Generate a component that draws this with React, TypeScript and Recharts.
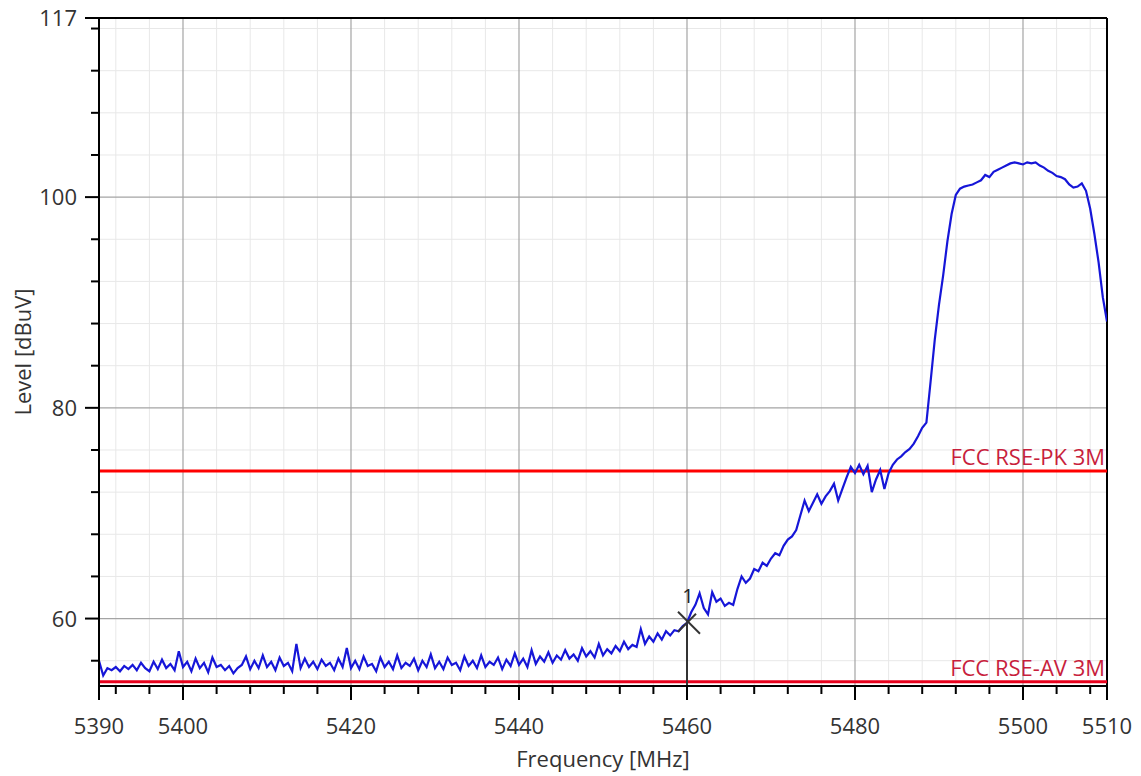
import React from 'react';
import {
  LineChart, Line, XAxis, YAxis, ReferenceLine, ReferenceDot,
} from 'recharts';

const START_FREQ = 5390;
const STEP_MHZ = 0.5;

// Measured level trace, one value every 0.5 MHz from 5390 to 5510 MHz
const LEVELS: number[] = [
  56.0, 54.6, 55.3, 55.1, 55.4, 55.0, 55.5, 55.2, 55.6, 55.1,
  55.8, 55.3, 55.0, 55.9, 55.2, 56.1, 55.3, 55.7, 55.1, 56.9,
  55.4, 55.9, 55.0, 56.2, 55.3, 55.8, 54.9, 56.3, 55.4, 55.6,
  55.1, 55.5, 54.8, 55.3, 55.6, 56.4, 55.2, 56.0, 55.3, 56.5,
  55.4, 55.9, 55.1, 56.3, 55.5, 55.8, 55.0, 57.6, 55.3, 56.2,
  55.4, 55.9, 55.2, 56.1, 55.5, 55.8, 55.1, 56.2, 55.4, 57.2,
  55.3, 56.0, 55.2, 56.4, 55.5, 55.7, 55.0, 56.3, 55.4, 55.9,
  55.2, 56.5, 55.3, 55.8, 55.5, 56.2, 55.1, 56.0, 55.4, 56.6,
  55.3, 55.9, 55.2, 56.3, 55.6, 55.8, 55.1, 56.4, 55.5, 56.0,
  55.3, 56.5, 55.4, 55.9, 55.6, 56.3, 55.2, 56.1, 55.5, 56.7,
  55.6, 56.2, 55.4, 57.0, 55.7, 56.4, 55.9, 56.8, 55.8, 56.5,
  56.1, 57.0, 56.2, 56.6, 56.0, 57.2, 56.4, 56.9, 56.3, 57.6,
  56.5, 57.1, 56.7, 57.4, 56.9, 57.8, 57.1, 57.5, 57.3, 59.0,
  57.6, 58.3, 57.8, 58.6, 58.0, 58.8, 58.4, 58.9, 58.8, 59.3,
  59.6, 60.6, 61.3, 62.4, 61.0, 60.4, 62.5, 61.6, 61.9, 61.2,
  61.5, 61.3, 62.8, 64.0, 63.4, 63.8, 64.7, 64.5, 65.3, 65.0,
  65.7, 66.2, 66.0, 66.9, 67.5, 67.8, 68.4, 69.8, 71.2, 70.2,
  71.0, 71.8, 70.9, 71.6, 72.1, 72.8, 71.2, 72.3, 73.4, 74.4,
  73.8, 74.6, 73.7, 74.5, 72.0, 73.2, 74.1, 72.3, 73.8, 74.6,
  75.1, 75.4, 75.8, 76.1, 76.6, 77.3, 78.1, 78.6, 82.5, 86.5,
  89.8, 92.6, 95.8, 98.4, 100.2, 100.8, 101.0, 101.1, 101.2, 101.4,
  101.6, 102.1, 101.9, 102.4, 102.6, 102.8, 103.0, 103.2, 103.3, 103.2,
  103.1, 103.3, 103.2, 103.3, 103.0, 102.8, 102.5, 102.3, 102.0, 101.9,
  101.7, 101.2, 100.9, 101.0, 101.3, 100.6, 98.9, 96.5, 93.8, 90.5,
  88.2,
];

const MAJOR_X = [5390, 5400, 5420, 5440, 5460, 5480, 5500, 5510];
const MINOR_X = [5392, 5396, 5404, 5408, 5412, 5416, 5424, 5428, 5432, 5436, 5444, 5448,
  5452, 5456, 5464, 5468, 5472, 5476, 5484, 5488, 5492, 5496, 5504, 5508];
const MAJOR_Y = [60, 80, 100, 117];
const MINOR_Y = [56, 64, 68, 72, 76, 84, 88, 92, 96, 104, 108, 112, 116];
const GRID_X = [5400, 5420, 5440, 5460, 5480, 5500];
const GRID_Y = [60, 80, 100];

const Y_DOMAIN: [number, number] = [53.6, 117];
const X_DOMAIN: [number, number] = [5390, 5510];

const LIMIT_PK = 74;
const LIMIT_AV = 54;
const MARKER = { freq: 5460, level: 59.6, label: '1' };

const data = LEVELS.map((level, i) => ({ freq: START_FREQ + i * STEP_MHZ, level }));

const FONT = '"Open Sans", "Noto Sans", sans-serif';
const TEXT = '#333333';

const XTick = (props: any) => {
  const { x, y, payload } = props;
  const major = MAJOR_X.includes(payload.value);
  return (
    <g>
      <line x1={x} x2={x} y1={y} y2={y + (major ? 14 : 8)} stroke="#000" strokeWidth={2} />
      {major && (
        <text x={x} y={y + 48} textAnchor="middle" fontSize={22} fontFamily={FONT} fill={TEXT}>
          {payload.value}
        </text>
      )}
    </g>
  );
};

const YTick = (props: any) => {
  const { x, y, payload } = props;
  const major = MAJOR_Y.includes(payload.value);
  return (
    <g>
      <line x1={x - (major ? 14 : 8)} x2={x} y1={y} y2={y} stroke="#000" strokeWidth={2} />
      {major && (
        <text x={x - 22} y={y + 8} textAnchor="end" fontSize={22} fontFamily={FONT} fill={TEXT}>
          {payload.value}
        </text>
      )}
    </g>
  );
};

const limitLabel = (text: string) => (props: any) => {
  const vb = props.viewBox || {};
  return (
    <text x={vb.x + vb.width - 2} y={vb.y - 6} textAnchor="end" fontSize={22}
      fontFamily={FONT} fill="#c81e3c">
      {text}
    </text>
  );
};

const MarkerShape = (props: any) => {
  const { cx, cy } = props;
  return (
    <g>
      <line x1={cx - 9} y1={cy - 11} x2={cx + 13} y2={cy + 11} stroke="#333" strokeWidth={2} />
      <line x1={cx - 9} y1={cy + 9} x2={cx + 9} y2={cy - 9} stroke="#333" strokeWidth={2} />
      <text x={cx + 1} y={cy - 20} textAnchor="middle" fontSize={20} fontFamily={FONT} fill="#222">
        {MARKER.label}
      </text>
    </g>
  );
};

export default function App() {
  return (
    <div style={{ width: 1133, height: 776, background: '#fff', marginTop: -8 }}>
      <LineChart
        width={1133}
        height={776}
        data={data}
        margin={{ top: 18, right: 34, left: 11, bottom: 10 }}
      >
        <XAxis
          dataKey="freq"
          type="number"
          domain={X_DOMAIN}
          ticks={[...MAJOR_X, ...MINOR_X].sort((a, b) => a - b)}
          interval={0}
          tickSize={0}
          tickMargin={0}
          tickLine={false}
          tick={<XTick />}
          axisLine={{ stroke: '#000', strokeWidth: 2 }}
          height={80}
          allowDataOverflow
          label={(p: any) => {
            const vb = p.viewBox || {};
            return (
              <text x={vb.x + vb.width / 2} y={vb.y + 81} textAnchor="middle" fontSize={22}
                fontFamily={FONT} fill={TEXT}>
                Frequency [MHz]
              </text>
            );
          }}
        />
        <YAxis
          type="number"
          domain={Y_DOMAIN}
          ticks={[...MAJOR_Y, ...MINOR_Y].sort((a, b) => a - b)}
          interval={0}
          tickSize={0}
          tickMargin={0}
          tickLine={false}
          tick={<YTick />}
          axisLine={{ stroke: '#000', strokeWidth: 2 }}
          width={80}
          allowDataOverflow
          label={(p: any) => {
            const vb = p.viewBox || {};
            const cx = 14;
            const cy = vb.y + vb.height / 2;
            return (
              <text x={cx} y={cy} transform={`rotate(-90 ${cx} ${cy})`} textAnchor="middle"
                dominantBaseline="central" fontSize={22} fontFamily={FONT} fill={TEXT}>
                Level [dBuV]
              </text>
            );
          }}
        />
        {MINOR_X.map((v) => (
          <ReferenceLine key={`mx${v}`} x={v} stroke="#e8e8e8" strokeWidth={1} />
        ))}
        {MINOR_Y.map((v) => (
          <ReferenceLine key={`my${v}`} y={v} stroke="#e8e8e8" strokeWidth={1} />
        ))}
        {GRID_X.map((v) => (
          <ReferenceLine key={`gx${v}`} x={v} stroke="#a4a4a4" strokeWidth={1.2} />
        ))}
        {GRID_Y.map((v) => (
          <ReferenceLine key={`gy${v}`} y={v} stroke="#a4a4a4" strokeWidth={1.2} />
        ))}
        <ReferenceLine y={Y_DOMAIN[1]} stroke="#000" strokeWidth={2} />
        <ReferenceLine x={X_DOMAIN[1]} stroke="#000" strokeWidth={2} />
        <ReferenceLine y={LIMIT_PK} stroke="#ff0000" strokeWidth={3}
          label={limitLabel('FCC RSE-PK 3M')} />
        <ReferenceLine y={LIMIT_AV} stroke="#e8001c" strokeWidth={3}
          label={limitLabel('FCC RSE-AV 3M')} />
        <ReferenceLine
          segment={[{ x: MARKER.freq, y: Y_DOMAIN[0] }, { x: MARKER.freq, y: MARKER.level }]}
          stroke="#333"
          strokeWidth={2}
        />
        <Line
          type="linear"
          dataKey="level"
          stroke="#1616d8"
          strokeWidth={2.2}
          dot={false}
          isAnimationActive={false}
        />
        <ReferenceDot x={MARKER.freq} y={MARKER.level} r={0} shape={<MarkerShape />} />
      </LineChart>
    </div>
  );
}
